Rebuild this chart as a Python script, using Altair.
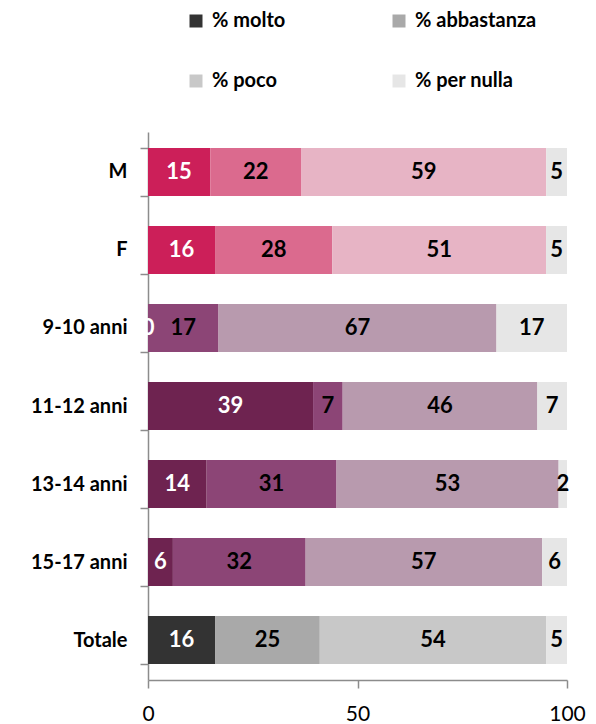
import altair as alt
import pandas as pd

groups = ["M", "F", "9-10 anni", "11-12 anni", "13-14 anni", "15-17 anni", "Totale"]
families = ["genere", "genere", "eta", "eta", "eta", "eta", "totale"]
categories = ["% molto", "% abbastanza", "% poco", "% per nulla"]
molto = [15, 16, 0, 39, 14, 6, 16]
abbastanza = [22, 28, 17, 7, 31, 32, 25]
poco = [59, 51, 67, 46, 53, 57, 54]
per_nulla = [5, 5, 17, 7, 2, 6, 5]

series = [molto, abbastanza, poco, per_nulla]
rows = []
for gi, (g, fam) in enumerate(zip(groups, families)):
    for ci, (cat, vals) in enumerate(zip(categories, series)):
        rows.append({"gruppo": g, "famiglia": fam, "cat": cat, "idx": ci,
                     "valore": vals[gi], "key": fam + "|" + cat})
df = pd.DataFrame(rows)

fill_domain = [f + "|" + c for f in ["genere", "eta", "totale"] for c in categories]
fill_range = ["#CC1F59", "#DB6A8E", "#E7B4C5", "#E6E6E6",
              "#6E2350", "#8C4576", "#B89AAE", "#E6E6E6",
              "#333333", "#A9A9A9", "#C8C8C8", "#E6E6E6"]
legend_range = ["#333333", "#A9A9A9", "#C8C8C8", "#E6E6E6"]

axis_col = "#8C8C8C"

base = (
    alt.Chart(df)
    .transform_joinaggregate(tot="sum(valore)", groupby=["gruppo"])
    .transform_calculate(pct="datum.valore / datum.tot * 100")
    .transform_window(end="sum(pct)", sort=[alt.SortField("idx")],
                      groupby=["gruppo"], frame=[None, 0])
    .transform_calculate(start="datum.end - datum.pct")
    .transform_calculate(mid="(datum.start + datum.end) / 2")
)

y_enc = alt.Y(
    "gruppo:N", sort=groups,
    scale=alt.Scale(paddingInner=0.386, paddingOuter=0.205),
    axis=alt.Axis(title=None, labelFont="Lato", labelFontWeight="bold",
                  labelFontSize=20, labelColor="black", tickBand="extent",
                  tickSize=8, labelPadding=13, domainColor=axis_col,
                  tickColor=axis_col, domainWidth=1.5, tickWidth=1.5),
)
x_enc = alt.X(
    "start:Q",
    scale=alt.Scale(domain=[0, 100], nice=False),
    axis=alt.Axis(values=[0, 50, 100], title=None, grid=False,
                  labelFont="Lato", labelFontSize=21, labelColor="black",
                  labelFlush=False,
                  tickSize=8, labelPadding=15, domainColor=axis_col,
                  tickColor=axis_col, domainWidth=1.5, tickWidth=1.5),
)

legend_layer = base.mark_bar().encode(
    y=y_enc,
    x=x_enc,
    x2="start:Q",
    color=alt.Color(
        "cat:N",
        scale=alt.Scale(domain=categories, range=legend_range),
        legend=alt.Legend(title=None, orient="none", legendX=38, legendY=-121,
                          direction="horizontal", columns=2,
                          columnPadding=103, rowPadding=40,
                          symbolType="square", symbolSize=169,
                          symbolStrokeWidth=0, labelFont="Lato",
                          labelFontWeight="bold", labelFontSize=20,
                          labelColor="black", labelOffset=6, padding=0,
                          labelLimit=300),
    ),
)

bars = base.mark_bar().encode(
    y=y_enc,
    x=x_enc,
    x2="end:Q",
    color=alt.Color("key:N",
                    scale=alt.Scale(domain=fill_domain, range=fill_range),
                    legend=None),
)

labels = base.mark_text(font="Lato", fontWeight="bold", fontSize=22,
                        align="center", baseline="middle").encode(
    y=alt.Y("gruppo:N", sort=groups),
    x=alt.X("mid:Q"),
    text=alt.Text("valore:Q"),
    color=alt.condition("datum.idx == 0", alt.value("white"), alt.value("black")),
)

chart = (
    alt.layer(legend_layer, bars, labels)
    .resolve_scale(color="independent")
    .properties(width=419, height=548,
                padding={"left": 140, "top": 124, "right": 21, "bottom": 44},
                autosize=alt.AutoSizeParams(type="none"))
    .configure_view(stroke=None)
)

chart.save("out.html", embed_options={"renderer": "svg", "actions": False})
